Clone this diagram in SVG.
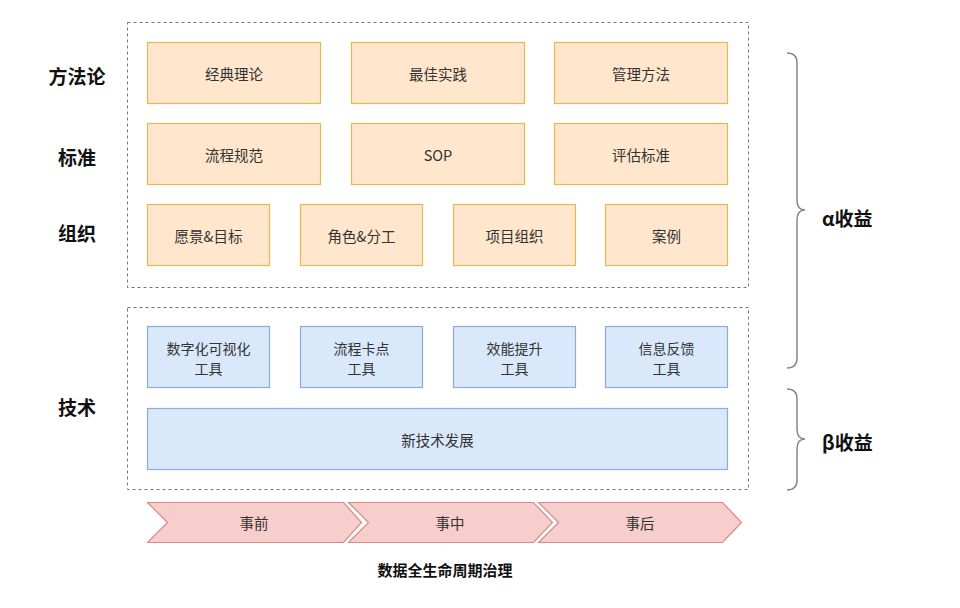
<svg xmlns="http://www.w3.org/2000/svg" width="960" height="608" viewBox="0 0 960 608">
<style>
text{font-family:"Noto Sans CJK SC","Noto Sans",sans-serif;dominant-baseline:central;}
.t{font-size:14.5px;fill:#333;text-anchor:middle;}
.t2{font-size:14px;fill:#333;text-anchor:middle;}
.lbl{font-size:19px;font-weight:bold;fill:#111;text-anchor:middle;}
.side{font-size:19px;font-weight:bold;fill:#111;}
.ttl{font-size:15px;font-weight:bold;fill:#111;text-anchor:middle;}
.cont{fill:none;stroke:#777;stroke-width:1;stroke-dasharray:3 3;}
.o{fill:#ffe6cc;stroke:#e9b752;stroke-width:1.2;}
.b{fill:#dae8fc;stroke:#8aabdc;stroke-width:1.2;}
.r{fill:#f8cecc;stroke:#d98a88;stroke-width:1.2;}
.br{fill:none;stroke:#888;stroke-width:1.5;}
</style>
<rect width="960" height="608" fill="#fff"/>
<g id="containers">
<rect class="cont" x="127.5" y="22.5" width="621" height="265"/>
<rect class="cont" x="127.5" y="307.5" width="621" height="182"/>
</g>
<g id="labels">
<text class="lbl" x="77" y="75">方法论</text>
<text class="lbl" x="77" y="156">标准</text>
<text class="lbl" x="77" y="232">组织</text>
<text class="lbl" x="77" y="406">技术</text>
</g>
<g id="n1"><rect class="o" x="147.5" y="42.5" width="173" height="61"/><text class="t" x="234" y="73">经典理论</text></g>
<g id="n2"><rect class="o" x="351.5" y="42.5" width="173" height="61"/><text class="t" x="438" y="73">最佳实践</text></g>
<g id="n3"><rect class="o" x="554.5" y="42.5" width="173" height="61"/><text class="t" x="641" y="73">管理方法</text></g>
<g id="n4"><rect class="o" x="147.5" y="123.5" width="173" height="61"/><text class="t" x="234" y="154">流程规范</text></g>
<g id="n5"><rect class="o" x="351.5" y="123.5" width="173" height="61"/><text class="t" x="438" y="154">SOP</text></g>
<g id="n6"><rect class="o" x="554.5" y="123.5" width="173" height="61"/><text class="t" x="641" y="154">评估标准</text></g>
<g id="n7"><rect class="o" x="147.5" y="204.5" width="122" height="61"/><text class="t" x="208.5" y="235">愿景&amp;目标</text></g>
<g id="n8"><rect class="o" x="300.5" y="204.5" width="122" height="61"/><text class="t" x="361.5" y="235">角色&amp;分工</text></g>
<g id="n9"><rect class="o" x="453.5" y="204.5" width="122" height="61"/><text class="t" x="514.5" y="235">项目组织</text></g>
<g id="n10"><rect class="o" x="605.5" y="204.5" width="122" height="61"/><text class="t" x="666.5" y="235">案例</text></g>
<g id="n11"><rect class="b" x="147.5" y="326.5" width="122" height="61"/><text class="t2" x="208.5" y="348">数字化可视化</text><text class="t2" x="208.5" y="367.5">工具</text></g>
<g id="n12"><rect class="b" x="300.5" y="326.5" width="122" height="61"/><text class="t2" x="361.5" y="348">流程卡点</text><text class="t2" x="361.5" y="367.5">工具</text></g>
<g id="n13"><rect class="b" x="453.5" y="326.5" width="122" height="61"/><text class="t2" x="514.5" y="348">效能提升</text><text class="t2" x="514.5" y="367.5">工具</text></g>
<g id="n14"><rect class="b" x="605.5" y="326.5" width="122" height="61"/><text class="t2" x="666.5" y="348">信息反馈</text><text class="t2" x="666.5" y="367.5">工具</text></g>
<g id="n15"><rect class="b" x="147.5" y="408.5" width="580" height="61"/><text class="t" x="437.5" y="439">新技术发展</text></g>
<g id="s1"><polygon class="r" points="147.5,502.5 343.5,502.5 361.5,522.5 343.5,542.5 147.5,542.5 167.5,522.5"/><text class="t" x="254" y="522.5">事前</text></g>
<g id="s2"><polygon class="r" points="348.5,502.5 533.5,502.5 552.5,522.5 533.5,542.5 348.5,542.5 368.5,522.5"/><text class="t" x="450" y="522.5">事中</text></g>
<g id="s3"><polygon class="r" points="538.5,502.5 722.5,502.5 741.5,522.5 722.5,542.5 538.5,542.5 558.5,522.5"/><text class="t" x="640" y="522.5">事后</text></g>
<g id="title"><text class="ttl" x="445" y="569">数据全生命周期治理</text></g>
<g id="connectors">
<path class="br" d="M787,53 Q797,53 797,63 L797,200 Q797,210 805,210 Q797,210 797,220 L797,358 Q797,368 787,368"/>
<path class="br" d="M787,389 Q797,389 797,399 L797,429 Q797,439 805,439 Q797,439 797,449 L797,480 Q797,490 787,490"/>
</g>
<g id="benefits">
<text class="side" x="822" y="217">α收益</text>
<text class="side" x="822" y="441">β收益</text>
</g>
</svg>
